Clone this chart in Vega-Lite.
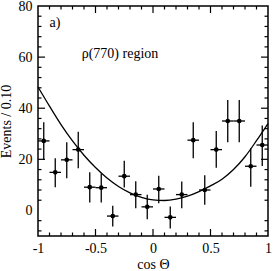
{
  "$schema": "https://vega.github.io/schema/vega-lite/v6.json",
  "width": 230,
  "height": 230,
  "autosize": {"type": "none"},
  "padding": {"left": 38, "top": 6, "right": 6, "bottom": 35},
  "background": "white",
  "config": {
    "view": {"stroke": "black", "strokeWidth": 1.5},
    "axis": {"grid": false, "domain": false, "tickColor": "black", "tickWidth": 1.2, "tickOpacity": 1}
  },
  "datasets": {
    "pts": [
      {"c": -0.95, "n": 27.2, "lo": 20.0, "hi": 34.5, "cl": -1.0, "ch": -0.9},
      {"c": -0.85, "n": 14.9, "lo": 9.1, "hi": 20.4, "cl": -0.9, "ch": -0.8},
      {"c": -0.75, "n": 19.8, "lo": 12.6, "hi": 26.7, "cl": -0.8, "ch": -0.7},
      {"c": -0.65, "n": 23.8, "lo": 16.5, "hi": 30.8, "cl": -0.7, "ch": -0.6},
      {"c": -0.55, "n": 9.1, "lo": 3.1, "hi": 14.9, "cl": -0.6, "ch": -0.5},
      {"c": -0.45, "n": 8.9, "lo": 3.1, "hi": 14.5, "cl": -0.5, "ch": -0.4},
      {"c": -0.35, "n": -2.2, "lo": -6.3, "hi": 1.8, "cl": -0.4, "ch": -0.3},
      {"c": -0.25, "n": 13.4, "lo": 9.0, "hi": 19.4, "cl": -0.3, "ch": -0.2},
      {"c": -0.15, "n": 6.2, "lo": 0.9, "hi": 11.4, "cl": -0.2, "ch": -0.1},
      {"c": -0.05, "n": 1.4, "lo": -3.4, "hi": 6.1, "cl": -0.1, "ch": 0.0},
      {"c": 0.05, "n": 8.4, "lo": 2.8, "hi": 13.6, "cl": 0.0, "ch": 0.1},
      {"c": 0.15, "n": -2.7, "lo": -7.1, "hi": 1.5, "cl": 0.1, "ch": 0.2},
      {"c": 0.25, "n": 6.2, "lo": 0.9, "hi": 11.3, "cl": 0.2, "ch": 0.3},
      {"c": 0.35, "n": 27.5, "lo": 20.4, "hi": 34.5, "cl": 0.3, "ch": 0.4},
      {"c": 0.45, "n": 8.0, "lo": 2.2, "hi": 13.8, "cl": 0.4, "ch": 0.5},
      {"c": 0.55, "n": 23.8, "lo": 16.7, "hi": 31.1, "cl": 0.5, "ch": 0.6},
      {"c": 0.65, "n": 35.0, "lo": 26.7, "hi": 43.2, "cl": 0.6, "ch": 0.7},
      {"c": 0.75, "n": 35.0, "lo": 26.7, "hi": 43.2, "cl": 0.7, "ch": 0.8},
      {"c": 0.85, "n": 17.3, "lo": 9.3, "hi": 24.3, "cl": 0.8, "ch": 0.9},
      {"c": 0.95, "n": 25.6, "lo": 17.4, "hi": 33.2, "cl": 0.9, "ch": 1.0}
    ],
    "fit": [
      {"c": -1.0, "n": 48.3}, {"c": -0.9, "n": 40.8}, {"c": -0.8, "n": 33.6},
      {"c": -0.7, "n": 27.2}, {"c": -0.6, "n": 21.6}, {"c": -0.5, "n": 16.8},
      {"c": -0.4, "n": 12.7}, {"c": -0.3, "n": 9.4}, {"c": -0.2, "n": 6.9},
      {"c": -0.1, "n": 5.1}, {"c": 0.0, "n": 4.1}, {"c": 0.1, "n": 3.9},
      {"c": 0.2, "n": 4.4}, {"c": 0.3, "n": 5.6}, {"c": 0.4, "n": 7.4},
      {"c": 0.5, "n": 9.6}, {"c": 0.6, "n": 12.2}, {"c": 0.7, "n": 16.0},
      {"c": 0.8, "n": 21.0}, {"c": 0.9, "n": 27.3}, {"c": 1.0, "n": 34.0}
    ],
    "notes": [
      {"c": -0.9, "n": 73.5, "t": "a)"},
      {"c": -0.62, "n": 61.2, "t": "ρ(770) region"}
    ],
    "xmaj": [{"v": -0.5}, {"v": 0}, {"v": 0.5}],
    "xmin": [{"v": -0.9}, {"v": -0.8}, {"v": -0.7}, {"v": -0.6}, {"v": -0.4}, {"v": -0.3}, {"v": -0.2}, {"v": -0.1}, {"v": 0.1}, {"v": 0.2}, {"v": 0.3}, {"v": 0.4}, {"v": 0.6}, {"v": 0.7}, {"v": 0.8}, {"v": 0.9}],
    "ymaj": [{"v": 20}, {"v": 40}, {"v": 60}],
    "ymin": [{"v": -8}, {"v": -4}, {"v": 4}, {"v": 8}, {"v": 12}, {"v": 16}, {"v": 24}, {"v": 28}, {"v": 32}, {"v": 36}, {"v": 44}, {"v": 48}, {"v": 52}, {"v": 56}, {"v": 64}, {"v": 68}, {"v": 72}, {"v": 76}]
  },
  "resolve": {"axis": {"x": "independent", "y": "independent"}},
  "layer": [
    {
      "mark": {"type": "rule", "color": "#444444", "strokeWidth": 1.5},
      "encoding": {"y": {"datum": 0, "type": "quantitative", "axis": null}}
    },
    {
      "data": {"name": "xmaj"},
      "mark": {"type": "tick", "orient": "vertical", "size": 14, "thickness": 1.2, "color": "black", "opacity": 1, "clip": true},
      "encoding": {
        "x": {"field": "v", "type": "quantitative", "axis": null},
        "y": {"datum": -10, "type": "quantitative", "axis": null}
      }
    },
    {
      "data": {"name": "xmaj"},
      "mark": {"type": "tick", "orient": "vertical", "size": 14, "thickness": 1.2, "color": "black", "opacity": 1, "clip": true},
      "encoding": {
        "x": {"field": "v", "type": "quantitative", "axis": null},
        "y": {"datum": 80, "type": "quantitative", "axis": null}
      }
    },
    {
      "data": {"name": "xmin"},
      "mark": {"type": "tick", "orient": "vertical", "size": 7, "thickness": 1.2, "color": "black", "opacity": 1, "clip": true},
      "encoding": {
        "x": {"field": "v", "type": "quantitative", "axis": null},
        "y": {"datum": -10, "type": "quantitative", "axis": null}
      }
    },
    {
      "data": {"name": "xmin"},
      "mark": {"type": "tick", "orient": "vertical", "size": 7, "thickness": 1.2, "color": "black", "opacity": 1, "clip": true},
      "encoding": {
        "x": {"field": "v", "type": "quantitative", "axis": null},
        "y": {"datum": 80, "type": "quantitative", "axis": null}
      }
    },
    {
      "data": {"name": "ymaj"},
      "mark": {"type": "tick", "orient": "horizontal", "size": 14, "thickness": 1.2, "color": "black", "opacity": 1, "clip": true},
      "encoding": {
        "y": {"field": "v", "type": "quantitative", "axis": null},
        "x": {"datum": -1, "type": "quantitative", "axis": null}
      }
    },
    {
      "data": {"name": "ymaj"},
      "mark": {"type": "tick", "orient": "horizontal", "size": 14, "thickness": 1.2, "color": "black", "opacity": 1, "clip": true},
      "encoding": {
        "y": {"field": "v", "type": "quantitative", "axis": null},
        "x": {"datum": 1, "type": "quantitative", "axis": null}
      }
    },
    {
      "data": {"name": "ymin"},
      "mark": {"type": "tick", "orient": "horizontal", "size": 7, "thickness": 1.2, "color": "black", "opacity": 1, "clip": true},
      "encoding": {
        "y": {"field": "v", "type": "quantitative", "axis": null},
        "x": {"datum": -1, "type": "quantitative", "axis": null}
      }
    },
    {
      "data": {"name": "ymin"},
      "mark": {"type": "tick", "orient": "horizontal", "size": 7, "thickness": 1.2, "color": "black", "opacity": 1, "clip": true},
      "encoding": {
        "y": {"field": "v", "type": "quantitative", "axis": null},
        "x": {"datum": 1, "type": "quantitative", "axis": null}
      }
    },
    {
      "data": {"name": "pts"},
      "mark": {"type": "rule", "color": "black", "strokeWidth": 1.3},
      "encoding": {
        "x": {"field": "c", "type": "quantitative", "axis": null},
        "y": {"field": "lo", "type": "quantitative", "axis": null},
        "y2": {"field": "hi"}
      }
    },
    {
      "data": {"name": "pts"},
      "mark": {"type": "rule", "color": "black", "strokeWidth": 1.3},
      "encoding": {
        "x": {"field": "cl", "type": "quantitative", "axis": null},
        "x2": {"field": "ch"},
        "y": {"field": "n", "type": "quantitative", "axis": null}
      }
    },
    {
      "data": {"name": "fit"},
      "mark": {"type": "line", "color": "black", "strokeWidth": 1.3, "interpolate": "monotone"},
      "encoding": {
        "x": {"field": "c", "type": "quantitative", "axis": null},
        "y": {"field": "n", "type": "quantitative", "axis": null}
      }
    },
    {
      "data": {"name": "notes"},
      "mark": {"type": "text", "align": "left", "baseline": "middle", "font": "Liberation Serif", "fontSize": 14, "color": "black"},
      "encoding": {
        "x": {"field": "c", "type": "quantitative", "axis": null},
        "y": {"field": "n", "type": "quantitative", "axis": null},
        "text": {"field": "t"}
      }
    },
    {
      "data": {"name": "pts"},
      "mark": {"type": "circle", "size": 22, "color": "black", "opacity": 1},
      "encoding": {
        "x": {
          "field": "c", "type": "quantitative",
          "scale": {"domain": [-1, 1], "nice": false, "zero": false},
          "axis": {
            "orient": "bottom",
            "values": [-1, -0.5, 0, 0.5, 1],
            "format": "~g",
            "labelExpr": "replace(datum.label,'−','-')",
            "labelOverlap": false,
            "labelFlush": false,
            "labelFont": "Liberation Serif", "labelFontSize": 14, "labelColor": "black",
            "labelPadding": 5.5,
            "ticks": false,
            "title": "cos Θ",
            "titleFont": "Liberation Serif", "titleFontSize": 14, "titleFontWeight": "normal", "titleColor": "black",
            "titlePadding": 2
          }
        },
        "y": {
          "field": "n", "type": "quantitative",
          "scale": {"domain": [-10, 80], "nice": false, "zero": false},
          "axis": {
            "orient": "left",
            "values": [0, 20, 40, 60, 80],
            "labelOverlap": false,
            "labelFlush": false,
            "labelFont": "Liberation Serif", "labelFontSize": 14, "labelColor": "black",
            "labelPadding": 6,
            "ticks": false,
            "title": "Events / 0.10",
            "titleFont": "Liberation Serif", "titleFontSize": 14, "titleFontWeight": "normal", "titleColor": "black",
            "titlePadding": 5
          }
        }
      }
    }
  ]
}
